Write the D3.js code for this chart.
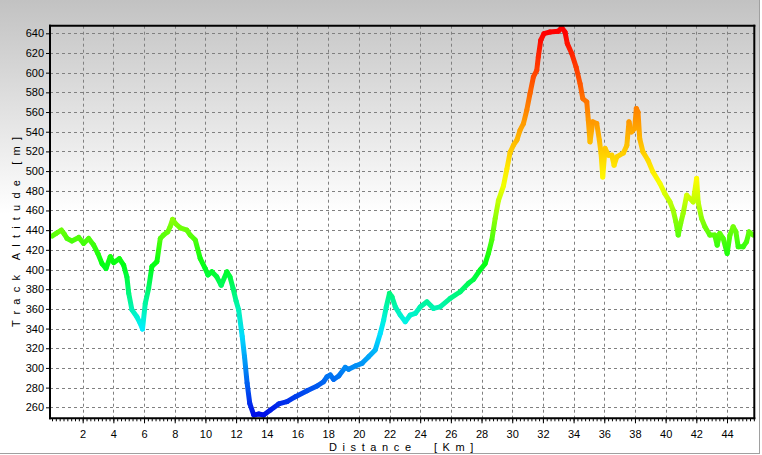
<!DOCTYPE html>
<html><head><meta charset="utf-8">
<script src="https://cdn.jsdelivr.net/npm/d3@7"></script>
<style>body{margin:0;background:#fff}svg{display:block}text{font-family:"Liberation Sans",Arial,sans-serif}</style>
</head><body><svg id="c" width="762" height="455"></svg>
<script>
const distanceKm = [0.0,0.3,0.61,0.8,0.98,1.3,1.74,2.06,2.39,2.71,3.0,3.26,3.52,3.80,4.02,4.39,4.67,4.88,5.0,5.21,5.53,5.75,5.9,6.08,6.3,6.51,6.84,7.06,7.27,7.55,7.7,7.86,8.03,8.36,8.79,9.01,9.34,9.66,9.99,10.16,10.42,10.74,11.03,11.4,11.6,11.8,12.0,12.17,12.4,12.55,12.72,12.89,13.15,13.48,13.8,14.24,14.78,15.32,15.87,16.63,17.28,17.7,17.93,18.14,18.36,18.69,19.12,19.34,19.77,20.21,20.64,21.07,21.4,21.62,21.79,22.0,22.16,22.38,22.7,23.03,23.35,23.68,24.0,24.44,24.87,25.3,25.96,26.61,27.15,27.48,27.9,28.24,28.45,28.67,28.89,29.1,29.43,29.65,29.86,30.08,30.3,30.51,30.73,30.95,31.16,31.38,31.6,31.7,31.86,32.07,32.46,33.0,33.22,33.44,33.59,33.88,34.16,34.42,34.6,34.86,34.96,35.07,35.25,35.51,35.68,35.79,35.9,36.05,36.27,36.49,36.64,36.82,37.25,37.47,37.61,37.77,37.98,38.09,38.2,38.31,38.52,38.85,39.17,39.63,39.94,40.28,40.49,40.67,40.82,40.98,41.14,41.37,41.58,41.8,42.02,42.12,42.34,42.56,42.88,43.2,43.36,43.53,43.75,44.01,44.19,44.4,44.58,44.73,45.05,45.27,45.44,45.7];
const altitudeM = [434,437,440,436,431.6,429,432.6,426.5,431.6,425,416,406,401,413,407,411,404.5,392.6,376,359,352,345.3,339.5,365.6,381,403,408,431.6,435,438.3,443.4,451,447,442.4,440,435,430,411.3,401,394.5,397.7,392.6,384,397.7,392.6,381,368,358.8,332,311.4,284.4,264,252.2,253.2,252.2,257.3,263.4,265.7,270.8,276.9,281.6,286,291,292.8,288.4,291.8,300.6,298.6,302,304.7,311.4,318.2,335.1,348.6,362,375.8,372.3,362,353.7,347,353.7,355.4,362,367.2,360.5,362,370.7,377.4,386,390,399.4,406,416.4,430,452,470,485,502,519,526.3,531.4,541.5,548.3,562,578.8,595.6,602.4,616,633,639.7,641.3,642,645.8,641.3,629.5,619.4,605.8,589,573.7,570.3,551.7,529.7,550,548.3,531.4,518,494,523,516.2,516.2,506,514.5,518.5,526,550,539.8,543.2,563.6,560,533,519.5,511,499.2,487.4,477.3,468.7,460.3,448.4,435,446.8,457,475.5,472.2,468.7,492.5,468.7,451.9,443.4,435,435,424.8,436.7,431.6,416.3,435,443.4,438.3,423.1,423.1,428.1,438.3,435];
const xTickValues = d3.range(2, 45, 2);
const xMinorTickValues = d3.range(0, 45.76, 0.25);
const yTickValues = d3.range(260, 641, 20);
const xTitle = "Distance [Km]";
const yTitle = "Track Altitude [m]";
const colorStops = [250, 340, 405, 490, 640];
const colorRange = ["#0008e8", "#00f0ff", "#00ff10", "#ffff00", "#ff0000"];

const svg = d3.select("#c");
const L = 50, R = 754.3, T = 25.7, B = 418.3;
const x = d3.scaleLinear().domain([0, 44]).range([52, 727]);
const y = d3.scaleLinear().domain([260, 640]).range([407.3, 33.3]);
const color = d3.scaleLinear().domain(colorStops).range(colorRange).clamp(true);

const defs = svg.append("defs");
const bg = defs.append("linearGradient").attr("id", "bg").attr("gradientUnits", "userSpaceOnUse")
  .attr("x1", 0).attr("y1", 0).attr("x2", 0).attr("y2", 455);
bg.append("stop").attr("offset", 0).attr("stop-color", "#c2c2c2");
bg.append("stop").attr("offset", 0.47).attr("stop-color", "#ffffff");
bg.append("stop").attr("offset", 1).attr("stop-color", "#ffffff");
defs.append("clipPath").attr("id", "clip").append("rect")
  .attr("x", L).attr("y", T).attr("width", R - L).attr("height", B - T);

svg.append("rect").attr("width", 762).attr("height", 455).attr("fill", "#fff");
svg.append("rect").attr("width", 759).attr("height", 453).attr("fill", "url(#bg)");
svg.append("line").attr("x1", 759.5).attr("x2", 759.5).attr("y1", 0).attr("y2", 454)
  .attr("stroke", "#a0a0a0");
svg.append("line").attr("x1", 0).attr("x2", 760).attr("y1", 453.5).attr("y2", 453.5)
  .attr("stroke", "#a0a0a0");

// grid
const grid = svg.append("g").attr("stroke", "#808080").attr("stroke-dasharray", "3,3").attr("stroke-width", 1);
grid.selectAll(".vx").data(xTickValues).join("line")
  .attr("x1", d => Math.round(x(d)) + 0.5).attr("x2", d => Math.round(x(d)) + 0.5)
  .attr("y1", T).attr("y2", B);
grid.selectAll(".hy").data(yTickValues).join("line")
  .attr("y1", d => Math.round(y(d)) + 0.5).attr("y2", d => Math.round(y(d)) + 0.5)
  .attr("x1", L).attr("x2", R);

// line with per-segment gradient
const plot = svg.append("g").attr("clip-path", "url(#clip)");
const pts = distanceKm.map((d, i) => [x(d), y(altitudeM[i]), altitudeM[i]]);
for (let i = 0; i < pts.length - 1; i++) {
  const a = pts[i], b = pts[i + 1];
  const g = defs.append("linearGradient").attr("id", "s" + i).attr("gradientUnits", "userSpaceOnUse")
    .attr("x1", a[0]).attr("y1", a[1]).attr("x2", b[0] + 0.001).attr("y2", b[1] + 0.001);
  g.append("stop").attr("offset", 0).attr("stop-color", color(a[2]));
  g.append("stop").attr("offset", 1).attr("stop-color", color(b[2]));
  plot.append("line").attr("x1", a[0]).attr("y1", a[1]).attr("x2", b[0]).attr("y2", b[1])
    .attr("stroke", `url(#s${i})`).attr("stroke-width", 5).attr("stroke-linecap", "round");
}

// axes
const xAxis = svg.append("g").attr("transform", `translate(0,${B})`)
  .call(d3.axisBottom(x).tickValues(xTickValues).tickSize(5).tickPadding(7).tickFormat(d3.format("d")));
const xMinor = svg.append("g").attr("transform", `translate(0,${B})`)
  .call(d3.axisBottom(x).tickValues(xMinorTickValues).tickSize(3).tickFormat(""));
const yAxis = svg.append("g").attr("transform", `translate(${L},0)`)
  .call(d3.axisLeft(y).tickValues(yTickValues).tickSize(4).tickPadding(2).tickFormat(d3.format("d")));
[xAxis, xMinor, yAxis].forEach(g => {
  g.select(".domain").remove();
  g.selectAll("line").attr("stroke", "#000");
  g.selectAll("text").attr("font-size", 11).attr("fill", "#000")
    .attr("font-family", '"Liberation Sans", Arial, sans-serif');
});

// frame
const frame = svg.append("g").attr("stroke", "#000").attr("stroke-width", 2);
frame.append("line").attr("x1", L).attr("x2", L).attr("y1", T - 1).attr("y2", B + 1);
frame.append("line").attr("x1", R).attr("x2", R).attr("y1", T - 1).attr("y2", B + 1);
frame.append("line").attr("x1", L - 1).attr("x2", R + 1).attr("y1", T).attr("y2", T);
frame.append("line").attr("x1", L - 1).attr("x2", R + 1).attr("y1", B).attr("y2", B);

// titles
svg.append("text").attr("x", 329).attr("y", 451).attr("font-size", 11).attr("fill", "#000")
  .attr("letter-spacing", "5.6px").attr("xml:space", "preserve").text(xTitle.replace(" ", "  "));
svg.append("text").attr("transform", "translate(19.5,327) rotate(-90)").attr("font-size", 11)
  .attr("fill", "#000").attr("letter-spacing", "6.2px").text(yTitle);
</script></body></html>
